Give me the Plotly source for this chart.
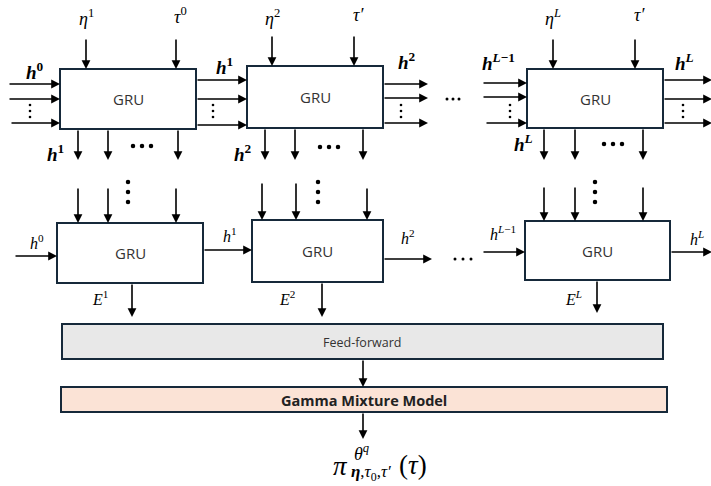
import plotly.graph_objects as go

# labels (top: bold stacked-GRU inputs, bottom: decoder GRU chain)
eta_labels = ["<i>η</i><sup>1</sup>", "<i>η</i><sup>2</sup>", "<i>η</i><sup><i>L</i></sup>"]
tau_labels = ["<i>τ</i><sup>0</sup>", "<i>τ′</i>", "<i>τ′</i>"]
top_in_labels = ["<b><i>h</i><sup>0</sup></b>", "<b><i>h</i><sup>1</sup></b>",
                 "<b><i>h</i><sup>2</sup></b>", "<b><i>h</i><sup><i>L</i>−1</sup></b>",
                 "<b><i>h</i><sup><i>L</i></sup></b>"]
top_down_labels = ["<b><i>h</i><sup>1</sup></b>", "<b><i>h</i><sup>2</sup></b>",
                   "<b><i>h</i><sup><i>L</i></sup></b>"]
bot_h_labels = ["<i>h</i><sup>0</sup>", "<i>h</i><sup>1</sup>", "<i>h</i><sup>2</sup>",
                "<i>h</i><sup><i>L</i>−1</sup>", "<i>h</i><sup><i>L</i></sup>"]
e_labels = ["<i>E</i><sup>1</sup>", "<i>E</i><sup>2</sup>", "<i>E</i><sup><i>L</i></sup>"]
block_names = ["GRU", "Feed-forward", "Gamma Mixture Model"]

BORDER = "#16293a"
SERIF = "Liberation Serif"
SANS = "Open Sans"

fig = go.Figure()


def box(x0, y0, x1, y1, fill="white", width=2):
    fig.add_shape(type="rect", x0=x0, y0=y0, x1=x1, y1=y1,
                  line=dict(color=BORDER, width=width), fillcolor=fill, layer="below")


def arrow(x0, y0, x1, y1):
    fig.add_annotation(x=x1, y=y1, ax=x0, ay=y0, xref="x", yref="y",
                       axref="x", ayref="y", text="", showarrow=True,
                       arrowhead=2, arrowsize=1.1, arrowwidth=1.6,
                       arrowcolor="black", standoff=0, startstandoff=0)


def label(x, y, text, size=15, font=SERIF, color="black"):
    fig.add_annotation(x=x, y=y, xref="x", yref="y", text=text, showarrow=False,
                       font=dict(family=font, size=size, color=color))


def dots(xs, ys, size):
    fig.add_trace(go.Scatter(x=xs, y=ys, mode="markers", hoverinfo="skip",
                             marker=dict(color="black", size=size), showlegend=False))


# --- top row GRUs
top_boxes = [(60, 69, 196, 129), (247, 66, 383, 128), (527, 69, 663, 128)]
for b in top_boxes:
    box(*b)
    label((b[0] + b[2]) / 2, (b[1] + b[3]) / 2, block_names[0], size=15, font=SANS, color="#333")

# inputs from above
for (x0, y0, x1, y1), ex, tx, el, tl, top in zip(
        top_boxes, [86, 272, 553], [176, 354, 635], eta_labels, tau_labels, [38, 35, 38]):
    arrow(ex, top, ex, y0)
    arrow(tx, top, tx, y0)
    label(ex, 17, el, size=18)
    label(tx + 4, 15, tl, size=18)

# horizontal hidden-state arrows
for y, xs in [(84, 8), (99, 8), (123, 10)]:
    arrow(xs, y, 60, y)
for y in [80, 99, 125]:
    arrow(196, y, 247, y)
for y in [84, 98, 123]:
    arrow(383, y, 428, y)
for y, xs in [(83, 482), (97, 482), (123, 485)]:
    arrow(xs, y, 527, y)
for y in [80, 99, 123]:
    arrow(663, y, 712, y)

for x, y, t in zip([35, 224, 407, 498, 684], [71, 66, 61, 62, 62], top_in_labels):
    label(x, y, t, size=19)

# outputs down from top GRUs
for xs, (x0, y0, x1, y1) in zip([[78, 108, 178], [265, 295, 363], [544, 575, 643]], top_boxes):
    for x in xs:
        arrow(x, y1, x, 160)
for x, y, t in zip([55, 243, 523], [153, 153, 143], top_down_labels):
    label(x, y, t, size=19)

# small vertical dots beside the input stacks
for x in [30, 213, 401, 510, 683]:
    dots([x] * 3, [105, 111, 117], 2.6)
# horizontal ellipses
for xc, y in [(142, 146), (329, 147), (613, 144)]:
    dots([xc - 9, xc, xc + 9], [y] * 3, 4.5)
dots([447, 453, 459], [99] * 3, 3)
dots([455, 463, 471], [259] * 3, 3)
# big vertical dots above the bottom GRUs
for x in [128, 318, 595]:
    dots([x] * 3, [182, 192, 202], 4.5)

# --- bottom row GRUs
bot_boxes = [(57, 223, 203, 283), (252, 220, 383, 282), (525, 221, 670, 280)]
for b in bot_boxes:
    box(*b)
    label((b[0] + b[2]) / 2, (b[1] + b[3]) / 2, block_names[0], size=15, font=SANS, color="#333")

for xs, tops, (x0, y0, x1, y1) in zip([[78, 108, 176], [262, 296, 367], [544, 575, 643]],
                                     [[187, 187, 187], [182, 182, 187], [186, 186, 186]],
                                     bot_boxes):
    for x, t in zip(xs, tops):
        arrow(x, t, x, y0)

for (x0, y0, x1, y1) in [(14, 256, 57, 256), (203, 250, 252, 250), (383, 259, 432, 259),
                         (482, 252, 525, 252), (670, 252, 712, 252)]:
    arrow(x0, y0, x1, y1)
for x, y, t in zip([37, 230, 408, 503, 697], [242, 235, 237, 233, 238], bot_h_labels):
    label(x, y, t, size=16)

for x, y1, end in [(132, 283, 317), (322, 282, 317), (597, 280, 313)]:
    arrow(x, y1, x, end)
for x, t in zip([100, 287, 573], e_labels):
    label(x, 298, t, size=16)

# --- feed-forward / gamma mixture
box(62, 324, 663, 359, fill="#e8e8e8")
label(362, 342, block_names[1], size=12.5, font=SANS, color="#333")
arrow(363, 359, 363, 387)
box(61, 387, 667, 412, fill="#fbe3d6")
label(364, 400, "<b>" + block_names[2] + "</b>", size=14.5, font=SANS, color="#222")
arrow(363, 412, 363, 439)

# output distribution label
label(340, 466, "<i>π</i>", size=27)
label(361, 452, "<i>θ</i><sup><i>q</i></sup>", size=18)
label(371, 473, "<b><i>η</i></b>,<i>τ</i><sub>0</sub>,<i>τ′</i>", size=17)
label(413, 465, "(<i>τ</i>)", size=27)

fig.update_layout(
    width=711, height=486,
    margin=dict(l=0, r=0, t=0, b=0),
    plot_bgcolor="white", paper_bgcolor="white",
    xaxis=dict(range=[0, 711], visible=False, fixedrange=True),
    yaxis=dict(range=[486, 0], visible=False, fixedrange=True),
    showlegend=False,
)

fig.write_html("out.html", config={"displayModeBar": False},
               post_script="document.body.style.margin='0';")
